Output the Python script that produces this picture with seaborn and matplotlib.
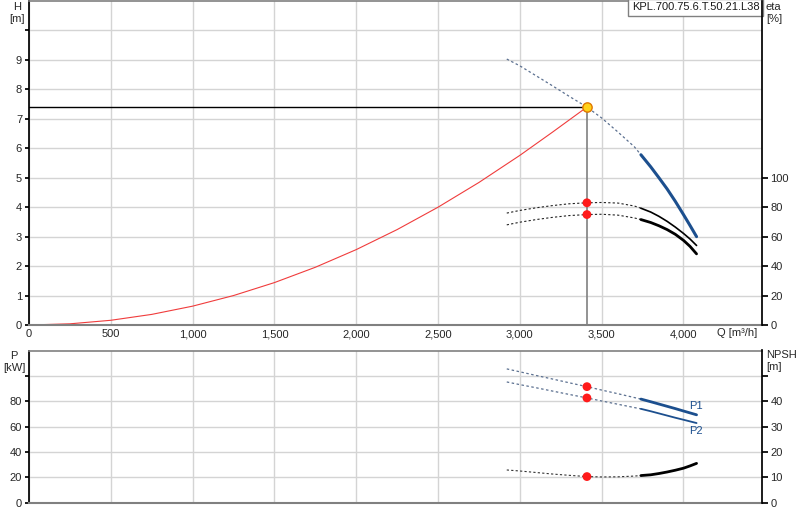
import numpy as np
import pandas as pd
import matplotlib
matplotlib.use("Agg")
import matplotlib.pyplot as plt
import seaborn as sns
from matplotlib.ticker import FuncFormatter

# system curve (red)
q_sys = [0, 250, 500, 750, 1000, 1250, 1500, 1750, 2000, 2250, 2500, 2750, 3000, 3200, 3410]
h_sys = [0, 0.04, 0.16, 0.36, 0.64, 1.0, 1.44, 1.96, 2.56, 3.24, 4.0, 4.84, 5.76, 6.55, 7.4]

# pump curves
q_pump = [2920, 3000, 3100, 3200, 3300, 3410, 3500, 3600, 3700, 3740,
          3800, 3850, 3900, 3950, 4000, 4040, 4080]
h_pump = [9.03, 8.8, 8.46, 8.12, 7.77, 7.4, 7.03, 6.55, 6.05, 5.78,
          5.37, 5.0, 4.62, 4.2, 3.75, 3.38, 3.0]
eta_1 = [76, 77.8, 79.6, 81.1, 82.3, 83, 83.2, 82.8, 80.8, 79.3,
         76.7, 73.8, 70.4, 66.5, 62.2, 58.4, 54.0]
eta_2 = [68, 69.8, 71.6, 73.1, 74.3, 75, 75.2, 74.6, 72.7, 71.6,
         69.6, 67.4, 64.8, 61.6, 57.5, 53.4, 48.3]
p1 = [105.5, 103.2, 100.3, 97.5, 94.6, 91.5, 88.8, 85.9, 82.9, 81.7,
      79.6, 77.8, 76.0, 74.2, 72.3, 70.8, 69.3]
p2 = [95.2, 93.1, 90.6, 88.0, 85.4, 82.6, 80.2, 77.6, 75.0, 74.0,
      72.1, 70.4, 68.7, 67.0, 65.4, 64.1, 62.8]
npsh = [12.9, 12.5, 11.9, 11.3, 10.8, 10.3, 10.15, 10.2, 10.5, 10.7,
        11.0, 11.5, 12.1, 12.8, 13.6, 14.5, 15.5]

q_start_solid = 3740
q_op = 3410
h_op = 7.4

model = "KPL.700.75.6.T.50.21.L38"

sns.set_theme(style="white")
plt.rcParams['font.family'] = ['Liberation Sans', 'DejaVu Sans']

df = pd.DataFrame({'Q': q_pump, 'H': h_pump, 'eta1': eta_1, 'eta2': eta_2,
                   'P1': p1, 'P2': p2, 'NPSH': npsh})
dash = df[df.Q <= q_start_solid]
solid = df[df.Q >= q_start_solid]
op = df[df.Q == q_op]

blue = '#1c4f8e'
dotted_blue = '#5b7090'
grid_c = '#d4d4d4'
dots = (0, (2, 2))

fig = plt.figure(figsize=(8, 5.2), dpi=100)
ax1 = fig.add_axes([29/800, 1-325/520, (762-29)/800, 325/520 - 0.002])
ax2 = fig.add_axes([29/800, 1-502.7/520, (762-29)/800, (502.7-350.5)/520])

xmax = 4480
comma = FuncFormatter(lambda v, p: f"{int(v):,}")

for ax in (ax1, ax2):
    ax.set_xlim(0, xmax)
    ax.set_xticks(np.arange(0, 4001, 500))
    ax.grid(True, color=grid_c, lw=1)
    ax.set_axisbelow(True)
    ax.spines['left'].set_color('black')
    ax.spines['bottom'].set_color('#808080')
    ax.spines['bottom'].set_linewidth(1.5)
    ax.spines['top'].set_color('#808080')
    ax.spines['top'].set_linewidth(1.2)
    ax.spines['right'].set_visible(False)
    ax.tick_params(axis='y', direction='out', length=3, color='black', labelsize=8, pad=2)
    ax.tick_params(axis='x', length=0, labelsize=8, pad=3)


def style_right(axr):
    for s in ('left', 'top', 'bottom'):
        axr.spines[s].set_visible(False)
    axr.spines['right'].set_color('black')
    axr.tick_params(axis='y', direction='out', length=4, color='black', labelsize=8, pad=2)
    axr.grid(False)


# --- top panel: H ---
ax1.set_ylim(0, 11)
ax1.set_yticks(np.arange(0, 11, 1))
ax1.set_yticklabels([str(i) for i in range(10)] + [''])
ax1.xaxis.set_major_formatter(comma)

sns.lineplot(x=q_sys, y=h_sys, ax=ax1, color='#f03c3c', lw=0.8, estimator=None, sort=False)
sns.lineplot(data=dash, x='Q', y='H', ax=ax1, color=dotted_blue, lw=0.9, linestyle=dots, estimator=None)
sns.lineplot(data=solid, x='Q', y='H', ax=ax1, color=blue, lw=2.2, estimator=None)
ax1.plot([0, q_op], [h_op, h_op], color='black', lw=1)
ax1.plot([q_op, q_op], [0, h_op], color='#808080', lw=1.2)
sns.scatterplot(x=[q_op], y=[h_op], ax=ax1, s=45, color='#ffd21a', edgecolor='#e07800',
                linewidth=1, zorder=5)
ax1.set_xlabel('')
ax1.set_ylabel('')

ax1.text(0.9965, 0.996, model, transform=ax1.transAxes, ha='right', va='top', fontsize=8,
         color='#1a1a1a', bbox=dict(boxstyle='square,pad=0.3', fc='white', ec='#808080', lw=1))
ax1.text(0.993, -0.026, 'Q [m³/h]', transform=ax1.transAxes, ha='right', va='center', fontsize=8)

# eta axis
ax1r = ax1.twinx()
ax1r.set_ylim(0, 220)
ax1r.set_yticks(np.arange(0, 101, 20))
style_right(ax1r)
sns.lineplot(data=dash, x='Q', y='eta1', ax=ax1r, color='#222222', lw=0.8, linestyle=dots, estimator=None)
sns.lineplot(data=dash, x='Q', y='eta2', ax=ax1r, color='#222222', lw=0.8, linestyle=dots, estimator=None)
sns.lineplot(data=solid, x='Q', y='eta1', ax=ax1r, color='black', lw=1.2, estimator=None)
sns.lineplot(data=solid, x='Q', y='eta2', ax=ax1r, color='black', lw=2.0, estimator=None)
sns.scatterplot(x=list(op.Q) * 2, y=list(op.eta1) + list(op.eta2), ax=ax1r, s=40,
                color='#ff1a1a', edgecolor='none', zorder=5)
ax1r.set_xlabel('')
ax1r.set_ylabel('')

# --- bottom panel: P / NPSH ---
ax2.set_ylim(0, 120)
ax2.set_yticks(np.arange(0, 101, 20))
ax2.set_yticklabels(['0', '20', '40', '60', '80', ''])
ax2.set_xticklabels([])

sns.lineplot(data=dash, x='Q', y='P1', ax=ax2, color=dotted_blue, lw=0.9, linestyle=dots, estimator=None)
sns.lineplot(data=dash, x='Q', y='P2', ax=ax2, color=dotted_blue, lw=0.9, linestyle=dots, estimator=None)
sns.lineplot(data=solid, x='Q', y='P1', ax=ax2, color=blue, lw=2.0, estimator=None)
sns.lineplot(data=solid, x='Q', y='P2', ax=ax2, color=blue, lw=1.3, estimator=None)
sns.scatterplot(x=list(op.Q) * 2, y=list(op.P1) + list(op.P2), ax=ax2, s=40,
                color='#ff1a1a', edgecolor='none', zorder=5)
ax2.text(4035, p1[-1] + 3, 'P1', color=blue, fontsize=8, ha='left', va='bottom')
ax2.text(4035, p2[-1] - 2, 'P2', color=blue, fontsize=8, ha='left', va='top')
ax2.set_xlabel('')
ax2.set_ylabel('')

ax2r = ax2.twinx()
ax2r.set_ylim(0, 60)
ax2r.set_yticks(np.arange(0, 51, 10))
ax2r.set_yticklabels(['0', '10', '20', '30', '40', ''])
style_right(ax2r)
sns.lineplot(data=dash, x='Q', y='NPSH', ax=ax2r, color='#333333', lw=0.8, linestyle=dots, estimator=None)
sns.lineplot(data=solid, x='Q', y='NPSH', ax=ax2r, color='black', lw=2.0, estimator=None)
sns.scatterplot(x=list(op.Q), y=list(op.NPSH), ax=ax2r, s=40, color='#ff1a1a',
                edgecolor='none', zorder=5)
ax2r.set_xlabel('')
ax2r.set_ylabel('')

# axis titles
fig.text(17/800, 1-13/520, 'H\n[m]', ha='center', va='center', fontsize=8, linespacing=1.2)
fig.text(766/800, 1-13/520, 'eta\n[%]', ha='left', va='center', fontsize=8, linespacing=1.2)
fig.text(14/800, 1-362/520, 'P\n[kW]', ha='center', va='center', fontsize=8, linespacing=1.2)
fig.text(766/800, 1-361/520, 'NPSH\n[m]', ha='left', va='center', fontsize=8, linespacing=1.2)

fig.savefig('out.png', dpi=100, facecolor='white')
